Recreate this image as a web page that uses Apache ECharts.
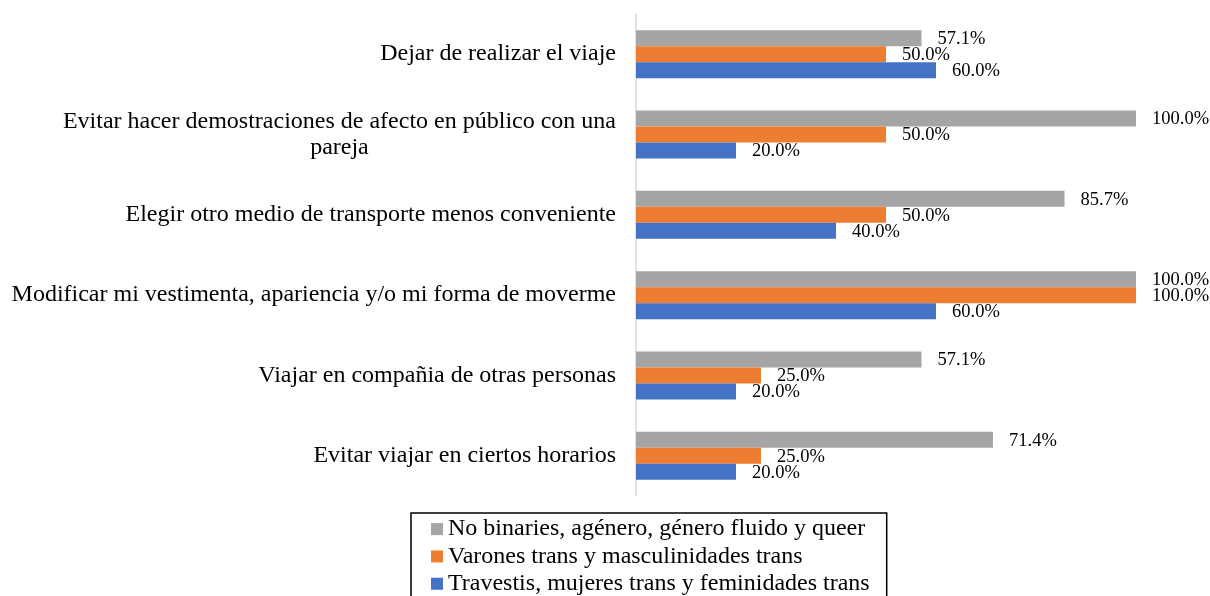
<!DOCTYPE html>
<html>
<head>
<meta charset="utf-8">
<script src="https://cdn.jsdelivr.net/npm/echarts@6/dist/echarts.min.js"></script>
<style>
html,body{margin:0;padding:0;background:#fff;}
#chart{width:1210px;height:596px;}
</style>
</head>
<body>
<div id="chart"></div>
<script>
const categories = [
  'Dejar de realizar el viaje',
  'Evitar hacer demostraciones de afecto en público con una\npareja',
  'Elegir otro medio de transporte menos conveniente',
  'Modificar mi vestimenta, apariencia y/o mi forma de moverme',
  'Viajar en compañia de otras personas',
  'Evitar viajar en ciertos horarios'
];
const seriesNames = [
  'No binaries, agénero, género fluido y queer',
  'Varones trans y masculinidades trans',
  'Travestis, mujeres trans y feminidades trans'
];
const noBinaries = [57.1, 100.0, 85.7, 100.0, 57.1, 71.4];
const varonesTrans = [50.0, 50.0, 50.0, 100.0, 25.0, 25.0];
const travestis = [60.0, 20.0, 40.0, 60.0, 20.0, 20.0];
const colors = ['#A5A5A5', '#ED7D31', '#4472C4'];

const FONT = "'Liberation Serif', 'Times New Roman', serif";

function mkSeries(name, data, color) {
  return {
    name: name,
    type: 'bar',
    data: data,
    barWidth: 16,
    barGap: '0%',
    itemStyle: { color: color },
    label: {
      show: true,
      position: 'right',
      distance: 16,
      offset: [0, 1],
      fontFamily: FONT,
      fontSize: 18.5,
      color: '#000',
      formatter: p => p.value.toFixed(1) + '%'
    }
  };
}

const chart = echarts.init(document.getElementById('chart'));
chart.setOption({
  animation: false,
  backgroundColor: '#fff',
  grid: { left: 636, right: 74, top: 14, bottom: 100, containLabel: false },
  xAxis: { type: 'value', min: 0, max: 100, show: false },
  yAxis: {
    type: 'category',
    inverse: true,
    data: categories,
    axisLine: { show: true, lineStyle: { color: '#D9D9D9', width: 1.5 } },
    axisTick: { show: false },
    axisLabel: {
      margin: 20,
      fontFamily: FONT,
      fontSize: 24,
      color: '#000',
      lineHeight: 26,
      formatter: v => v.split('\n').map(s => '{c|' + s + '}').join('\n'),
      rich: {
        c: { align: 'center', fontFamily: FONT, fontSize: 24, color: '#000', lineHeight: 26 }
      }
    }
  },
  legend: {
    orient: 'vertical',
    left: 411,
    top: 513,
    height: 200,
    padding: [2.5, 17, 20, 20],
    itemGap: 0,
    itemWidth: 12,
    itemHeight: 12,
    icon: 'rect',
    borderColor: '#000',
    borderWidth: 1.5,
    data: seriesNames,
    textStyle: { fontFamily: FONT, fontSize: 24, color: '#000', lineHeight: 27.3 }
  },
  series: [
    mkSeries(seriesNames[0], noBinaries, colors[0]),
    mkSeries(seriesNames[1], varonesTrans, colors[1]),
    mkSeries(seriesNames[2], travestis, colors[2])
  ]
});
</script>
</body>
</html>
